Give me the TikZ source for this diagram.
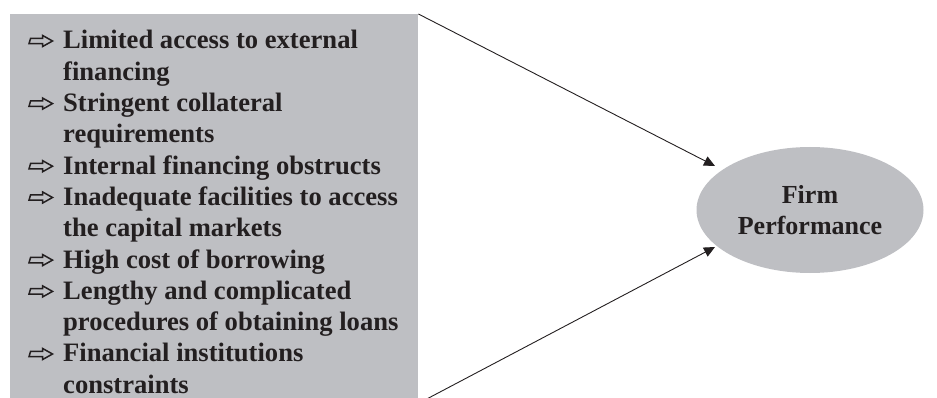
\documentclass[tikz,border=0pt]{standalone}
\usepackage{fontspec}
\setmainfont{Liberation Serif}
\usetikzlibrary{arrows.meta,shapes.geometric}
\definecolor{panelgray}{RGB}{190,191,195}
\definecolor{ink}{RGB}{35,31,32}
\begin{document}
\begin{tikzpicture}[x=1pt,y=-1pt,
  panel/.style={fill=panelgray, draw=none, inner sep=0pt, minimum width=408pt, minimum height=389pt},
  listtext/.style={inner sep=0pt, text=ink, font=\fontsize{26.6}{31.3}\selectfont\bfseries},
  outcome/.style={ellipse, fill=panelgray, draw=none, inner sep=0pt, minimum width=227pt, minimum height=126pt,
    align=center, text=ink, font=\fontsize{26}{31.3}\selectfont\bfseries},
  conn/.style={draw=ink, line width=0.9pt, -{Triangle[length=11pt,width=10pt]}},
  % hollow block arrow marking each list entry (origin on the text baseline)
  bulletarrow/.pic={\draw[draw=ink, line width=1.5pt, line join=miter]
      (0,-5.3) -- (13.5,-5.3) -- (13.5,-2.4) -- (23.5,-8) -- (13.5,-13.6)
      -- (13.5,-10.7) -- (1.6,-10.7) -- cycle;}]
\useasboundingbox (0,0) rectangle (937,398);
\clip (0,0) rectangle (937,398);

% shaded panel with the list of constraints
\node[panel, anchor=north west] (panel) at (10,14) {};
\node[listtext, anchor=base west] (list) at (63,49) {%
\begin{tabular}[t]{@{}l@{}}
Limited access to external\\
financing\\
Stringent collateral\\
requirements\\
Internal financing obstructs\\
Inadequate facilities to access\\
the capital markets\\
High cost of borrowing\\
Lengthy and complicated\\
procedures of obtaining loans\\
Financial institutions\\
constraints
\end{tabular}};

% bullets on the rows that start an entry
\foreach \row in {0,2,4,5,7,8,10}
  \pic at (29,{49+31.3*\row}) {bulletarrow};

% outcome
\node[outcome] (fp) at (810,210) {Firm\\Performance};

% connectors into the outcome
\coordinate (topend) at (715,166);
\coordinate (botend) at (715,247);
\draw[conn] (panel.north east) -- (topend);
\draw[conn] (panel.south east) -- (botend);
\end{tikzpicture}
\end{document}
